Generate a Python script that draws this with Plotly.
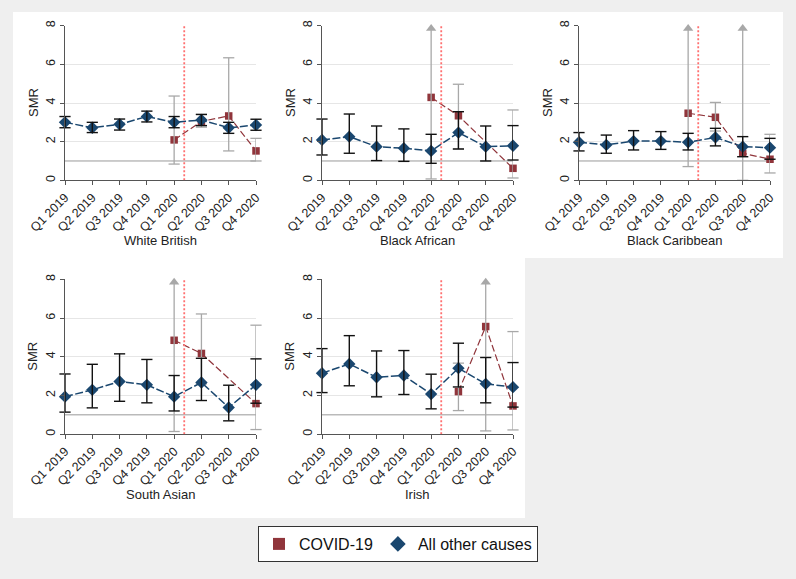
import plotly.graph_objects as go

INF = float("inf")  # upper limit beyond the top of the axis (drawn as an arrow)

quarters = ["Q1 2019", "Q2 2019", "Q3 2019", "Q4 2019",
            "Q1 2020", "Q2 2020", "Q3 2020", "Q4 2020"]
panel_names = ["White British", "Black African", "Black Caribbean", "South Asian", "Irish"]

# All other causes (SMR, lower CI, upper CI)
other_wb = [3.00, 2.72, 2.90, 3.30, 3.00, 3.12, 2.72, 2.86]
other_wb_lo = [2.72, 2.47, 2.60, 3.02, 2.72, 2.83, 2.43, 2.59]
other_wb_hi = [3.30, 3.00, 3.17, 3.58, 3.30, 3.41, 3.00, 3.16]

other_ba = [2.09, 2.26, 1.74, 1.66, 1.52, 2.47, 1.74, 1.79]
other_ba_lo = [1.31, 1.40, 1.02, 0.98, 0.88, 1.62, 1.00, 1.05]
other_ba_hi = [3.17, 3.43, 2.81, 2.66, 2.38, 3.55, 2.81, 2.83]

other_bc = [1.97, 1.83, 2.03, 2.03, 1.97, 2.22, 1.74, 1.69]
other_bc_lo = [1.52, 1.40, 1.57, 1.60, 1.57, 1.78, 1.22, 1.09]
other_bc_hi = [2.47, 2.34, 2.57, 2.52, 2.43, 2.69, 2.26, 2.17]

other_sa = [1.94, 2.29, 2.72, 2.55, 1.94, 2.67, 1.38, 2.55]
other_sa_lo = [1.14, 1.36, 1.70, 1.62, 1.20, 1.74, 0.69, 1.60]
other_sa_hi = [3.11, 3.61, 4.15, 3.86, 3.03, 3.92, 2.53, 3.89]

other_ir = [3.15, 3.63, 2.94, 3.03, 2.07, 3.41, 2.60, 2.43]
other_ir_lo = [2.15, 2.50, 1.93, 2.05, 1.31, 2.44, 1.62, 1.40]
other_ir_hi = [4.42, 5.09, 4.30, 4.32, 3.10, 4.70, 3.96, 3.70]

# COVID-19 (only 2020 quarters; None = not shown)
covid_wb = [None, None, None, None, 2.09, 3.05, 3.33, 1.52]
covid_wb_lo = [None, None, None, None, 0.84, 2.75, 1.52, 1.00]
covid_wb_hi = [None, None, None, None, 4.36, 3.40, 6.34, 2.17]

covid_ba = [None, None, None, None, 4.29, 3.34, None, 0.62]
covid_ba_lo = [None, None, None, None, 0.07, 1.62, None, 0.12]
covid_ba_hi = [None, None, None, None, INF, 4.97, None, 3.64]

covid_bc = [None, None, None, None, 3.47, 3.26, 1.40, 1.09]
covid_bc_lo = [None, None, None, None, 0.71, 2.55, 0.00, 0.38]
covid_bc_hi = [None, None, None, None, INF, 4.03, INF, 2.38]

covid_sa = [None, None, None, None, 4.85, 4.17, None, 1.58]
covid_sa_lo = [None, None, None, None, 0.14, 2.60, None, 0.24]
covid_sa_hi = [None, None, None, None, INF, 6.21, None, 5.63]

covid_ir = [None, None, None, None, None, 2.20, 5.56, 1.46]
covid_ir_lo = [None, None, None, None, None, 1.22, 0.17, 0.22]
covid_ir_hi = [None, None, None, None, None, 3.67, INF, 5.30]

other_all = [(other_wb, other_wb_lo, other_wb_hi), (other_ba, other_ba_lo, other_ba_hi),
             (other_bc, other_bc_lo, other_bc_hi), (other_sa, other_sa_lo, other_sa_hi),
             (other_ir, other_ir_lo, other_ir_hi)]
covid_all = [(covid_wb, covid_wb_lo, covid_wb_hi), (covid_ba, covid_ba_lo, covid_ba_hi),
             (covid_bc, covid_bc_lo, covid_bc_hi), (covid_sa, covid_sa_lo, covid_sa_hi),
             (covid_ir, covid_ir_lo, covid_ir_hi)]

LOCKDOWN_X = 4.37   # position of the dotted vertical marker (between Q1 and Q2 2020)
REF_SMR = 1.0
Y_MAX = 8

W, H = 796, 579
BLUE = "#1a476f"
RED = "#90353b"
CI_GRAY = "#a8a8a8"
CI_BLACK = "#111111"
FONT = "Arial, Liberation Sans, sans-serif"

col_px = [(65, 256), (322, 513), (579, 770)]
row_px = [(25.7, 180.3), (279.3, 434.2)]
panel_pos = [(0, 0), (0, 1), (0, 2), (1, 0), (1, 1)]

fig = go.Figure()
xs = list(range(len(quarters)))
arrow_top = Y_MAX - 0.15


def add_ci(vals, lo, hi, color, width, cap, xa, ya):
    lx, ly, capx, capy, arx, ary = [], [], [], [], [], []
    for i in xs:
        if vals[i] is None:
            continue
        top = hi[i] if hi[i] != INF else arrow_top
        lx += [i, i, None]
        ly += [lo[i], top, None]
        capx.append(i); capy.append(lo[i])
        if hi[i] == INF:
            arx.append(i); ary.append(arrow_top)
        else:
            capx.append(i); capy.append(hi[i])
    fig.add_trace(go.Scatter(x=lx, y=ly, mode="lines", xaxis=xa, yaxis=ya,
                             line=dict(color=color, width=width), showlegend=False,
                             hoverinfo="skip", cliponaxis=False))
    fig.add_trace(go.Scatter(x=capx, y=capy, mode="markers", xaxis=xa, yaxis=ya,
                             marker=dict(symbol="line-ew", size=cap,
                                         line=dict(color=color, width=width)),
                             showlegend=False, hoverinfo="skip", cliponaxis=False))
    if arx:
        fig.add_trace(go.Scatter(x=arx, y=ary, mode="markers", xaxis=xa, yaxis=ya,
                                 marker=dict(symbol="triangle-up", size=9, color=color),
                                 showlegend=False, hoverinfo="skip", cliponaxis=False))


for k in range(5):
    n = "" if k == 0 else str(k + 1)
    xa, ya = "x" + n, "y" + n
    r, c = panel_pos[k]
    ov, olo, ohi = other_all[k]
    cv, clo, chi = covid_all[k]

    # COVID-19
    fig.add_trace(go.Scatter(
        x=xs, y=cv, mode="lines+markers", xaxis=xa, yaxis=ya, connectgaps=True,
        line=dict(color=RED, width=1.2, dash="7px,3px"),
        marker=dict(symbol="square", size=7.5, color=RED),
        showlegend=False, cliponaxis=False))
    add_ci(cv, clo, chi, CI_GRAY, 1.3, 8, xa, ya)

    # All other causes
    fig.add_trace(go.Scatter(
        x=xs, y=ov, mode="lines+markers", xaxis=xa, yaxis=ya,
        line=dict(color=BLUE, width=1.5, dash="8px,2.5px"),
        marker=dict(symbol="diamond", size=9.5, color=BLUE),
        showlegend=False, cliponaxis=False))
    add_ci(ov, olo, ohi, CI_BLACK, 1.4, 8, xa, ya)

    # Axes
    x0, x1 = col_px[c]
    yt, yb = row_px[r]
    fig.update_layout(**{
        ("xaxis" + n): dict(domain=[x0 / W, x1 / W], anchor=ya, range=[0, len(quarters) - 1],
                            tickvals=xs, ticktext=quarters, tickangle=-45, automargin=False,
                            tickfont=dict(size=12.5, color="#222", family=FONT),
                            showline=True, linecolor="#555", linewidth=1,
                            ticks="outside", ticklen=4, tickcolor="#555",
                            showgrid=False, zeroline=False, fixedrange=True),
        ("yaxis" + n): dict(domain=[1 - yb / H, 1 - yt / H], anchor=xa, range=[0, Y_MAX],
                            tickvals=[0, 2, 4, 6, 8], tickangle=-90, automargin=False,
                            tickfont=dict(size=12.5, color="#222", family=FONT),
                            showline=True, linecolor="#555", linewidth=1,
                            ticks="outside", ticklen=4, tickcolor="#555",
                            showgrid=True, gridcolor="#e6e6e6", gridwidth=1,
                            zeroline=False, fixedrange=True),
    })
    # reference line and lockdown marker
    fig.add_shape(type="line", xref=xa, yref=ya, x0=0, x1=len(quarters) - 1,
                  y0=REF_SMR, y1=REF_SMR, line=dict(color="#999999", width=1), layer="below")
    fig.add_shape(type="line", xref=xa, yref=ya, x0=LOCKDOWN_X, x1=LOCKDOWN_X,
                  y0=0, y1=Y_MAX, line=dict(color="#ff7070", width=1.8, dash="2px,2px"))
    # titles
    fig.add_annotation(text=panel_names[k], xref="paper", yref="paper",
                       x=(x0 + x1) / 2 / W, y=1 - (yb + 60) / H, showarrow=False,
                       xanchor="center", yanchor="middle",
                       font=dict(size=13, color="#222", family=FONT))
    fig.add_annotation(text="SMR", xref="paper", yref="paper", textangle=-90,
                       x=(x0 - 32) / W, y=1 - (yt + yb) / 2 / H, showarrow=False,
                       xanchor="center", yanchor="middle",
                       font=dict(size=13, color="#222", family=FONT))

# Legend-only traces
fig.add_trace(go.Scatter(x=[None], y=[None], mode="markers", name="COVID-19",
                         marker=dict(symbol="square", size=11, color=RED)))
fig.add_trace(go.Scatter(x=[None], y=[None], mode="markers", name="All other causes",
                         marker=dict(symbol="diamond", size=14, color=BLUE)))

# white panel backgrounds
fig.add_shape(type="rect", xref="paper", yref="paper", x0=13 / W, x1=783 / W,
              y0=1 - 258 / H, y1=1 - 12 / H, fillcolor="white", line=dict(width=0), layer="below")
fig.add_shape(type="rect", xref="paper", yref="paper", x0=13 / W, x1=525 / W,
              y0=1 - 518 / H, y1=1 - 257 / H, fillcolor="white", line=dict(width=0), layer="below")

fig.update_layout(
    template="none",
    width=W, height=H, margin=dict(l=0, r=0, t=0, b=0, pad=0, autoexpand=False),
    paper_bgcolor="#efefef", plot_bgcolor="rgba(0,0,0,0)",
    font=dict(family=FONT, color="#222"),
    legend=dict(orientation="h", x=0.5, xanchor="center", y=1 - 526 / H, yanchor="top",
                bgcolor="white", bordercolor="#333", borderwidth=1,
                font=dict(size=16, color="#111", family=FONT),
                itemsizing="constant", itemwidth=30, tracegroupgap=0),
)

fig.write_html("out.html", config={"displayModeBar": False},
               post_script="document.body.style.margin='0';")
